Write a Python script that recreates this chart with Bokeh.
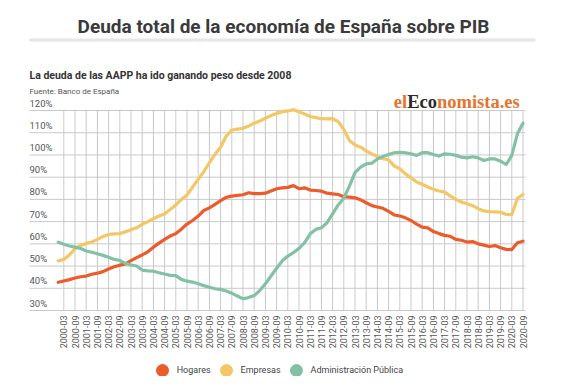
import math
import numpy as np
from bokeh.plotting import figure
from bokeh.models import Range1d, Label, Legend, LegendItem, BoxAnnotation
from bokeh.core.properties import value
from bokeh.embed import file_html
from bokeh.resources import INLINE

# ---------------- data ----------------
periods = ["1999-12"] + [f"{y}-{m:02d}" for y in range(2000, 2021) for m in (3, 6, 9, 12)][:83]

hogares = [42.7, 43.3, 43.9, 44.6, 45.2, 45.5, 46.3, 46.8, 47.5, 48.7,
           49.7, 50.4, 51.0, 52.4, 53.8, 55.0, 56.4, 58.5, 60.3, 62.0,
           63.5, 64.6, 66.6, 68.9, 70.5, 72.5, 75.0, 76.2, 77.8, 79.4,
           80.9, 81.5, 81.8, 82.1, 83.0, 82.6, 82.6, 82.8, 83.8, 84.8,
           85.2, 85.4, 86.2, 84.8, 85.2, 84.2, 84.0, 83.7, 82.8, 82.5,
           82.2, 81.2, 81.0, 80.7, 79.8, 78.5, 77.2, 76.6, 76.0, 74.6,
           73.0, 72.5, 71.7, 70.5, 68.9, 67.5, 67.2, 65.5, 64.6, 63.8,
           63.4, 62.0, 61.6, 60.8, 61.0, 60.0, 59.4, 58.8, 59.2, 58.2,
           57.5, 57.4, 60.5, 61.2]

empresas = [52.3, 53.0, 55.0, 57.8, 59.3, 60.2, 60.8, 62.0, 63.3, 64.2,
            64.5, 64.6, 65.4, 66.3, 67.2, 68.8, 70.0, 71.3, 72.5, 73.4,
            75.5, 77.5, 80.0, 82.0, 85.5, 89.0, 92.5, 96.5, 100.3, 103.5,
            108.5, 111.2, 111.6, 112.0, 113.0, 114.3, 115.3, 116.5, 117.7, 118.7,
            119.5, 119.8, 120.3, 119.5, 118.4, 117.3, 116.8, 116.3, 116.2, 116.3,
            115.0, 111.5, 106.5, 104.5, 103.5, 101.8, 100.5, 99.3, 98.3, 97.8,
            95.0, 93.8, 91.5, 89.7, 87.8, 86.8, 85.6, 84.5, 83.8, 83.3,
            81.6, 80.0, 78.8, 78.0, 77.2, 75.8, 74.8, 74.5, 74.4, 74.2,
            73.2, 73.2, 80.5, 82.2]

administracion = [60.7, 59.8, 59.0, 58.5, 57.9, 56.8, 56.2, 55.5, 54.8, 54.0,
                  53.0, 52.5, 51.2, 50.5, 50.0, 48.2, 47.8, 47.7, 47.0, 46.4,
                  45.8, 45.7, 44.0, 43.2, 42.8, 42.0, 41.2, 40.5, 39.8, 39.5,
                  38.8, 37.8, 36.5, 35.3, 35.8, 36.7, 39.0, 42.0, 45.5, 49.0,
                  52.3, 54.5, 56.0, 58.0, 60.5, 64.5, 66.5, 67.2, 69.5, 73.5,
                  77.5, 80.5, 86.0, 92.0, 94.5, 96.0, 96.3, 98.2, 99.3, 100.2,
                  101.0, 101.2, 101.0, 100.5, 99.8, 101.0, 101.0, 100.2, 99.5, 100.5,
                  100.3, 99.8, 99.0, 98.7, 99.2, 98.7, 97.5, 98.2, 98.2, 97.2,
                  95.7, 99.8, 109.5, 114.3]

series_names = ["Hogares", "Empresas", "Administración Pública"]
series_colors = ["#ee5b2b", "#f3c765", "#82c1a3"]

y_ticks = [30, 40, 50, 60, 70, 80, 90, 100, 110, 120]
y_tick_labels = ["30%", "40%", "50%", "60%", "70%", "80%", "90%", "100%", "110%", "120%"]

x_tick_labels = ["2000-03", "2000-09", "2001-03", "2001-09", "2002-03", "2002-09",
                 "2003-03", "2003-09", "2004-03", "2004-09", "2005-03", "2005-09",
                 "2006-03", "2006-09", "2007-03", "2007-09", "2008-03", "2008-09",
                 "2009-03", "2009-09", "2010-03", "2010-09", "2011-03", "2011-09",
                 "2012-03", "2012-09", "2013-03", "2013-09", "2014-03", "2014-09",
                 "2015-03", "2015-09", "2016-03", "2016-09", "2017-03", "2017-09",
                 "2018-03", "2018-09", "2019-03", "2019-09", "2020-03", "2020-09"]

title_text = "Deuda total de la economía de España sobre PIB"
subtitle_text = "La deuda de las AAPP ha ido ganando peso desde 2008"
source_text = "Fuente: Banco de España"


def qidx(s):
    y, m = s.split("-")
    return (int(y) - 2000) * 4 + int(m) // 3 - 1


xq = [qidx(s) for s in periods]
x_ticks = [qidx(s) for s in x_tick_labels]

FONT = "Roboto"
GRID_LEFT, GRID_RIGHT = -6.125, 82.446

W, H = 551, 376
# the frame fills the whole canvas
p = figure(width=W, height=H, output_backend="svg", toolbar_location=None,
           x_range=Range1d(-11.304, 87.089), y_range=Range1d(0.3, 169.5),
           x_axis_location=None, y_axis_location=None,
           min_border_left=0, min_border_right=0, min_border_top=0, min_border_bottom=0)
p.outline_line_color = None
p.background_fill_color = "white"
p.border_fill_color = "white"
p.grid.visible = False

grid_color = "#c9c9c9"
# horizontal gridlines
p.segment(x0=[GRID_LEFT] * len(y_ticks), y0=y_ticks, x1=[GRID_RIGHT] * len(y_ticks), y1=y_ticks,
          line_color=grid_color, line_width=1)
# vertical gridlines
p.segment(x0=x_ticks, y0=[y_ticks[0]] * len(x_ticks), x1=x_ticks,
          y1=[y_ticks[-1]] * len(x_ticks), line_color=grid_color, line_width=1)

# y tick labels, above the gridlines at left
p.text(x=[GRID_LEFT] * len(y_ticks), y=y_ticks, text=y_tick_labels,
       text_font=value(FONT), text_font_size="9.5px", text_color="#555555",
       text_align="left", text_baseline="bottom", y_offset=-2)

# x tick labels (vertical, reading upwards)
p.text(x=x_ticks, y=[y_ticks[0]] * len(x_ticks), text=x_tick_labels, angle=math.pi / 2,
       text_font=value(FONT), text_font_size="9px", text_color="#555555",
       text_align="right", text_baseline="middle", y_offset=5)

for vals, col in zip([hogares, empresas, administracion], series_colors):
    p.line(xq, vals, line_color=col, line_width=3.2, line_join="round", line_cap="round")

# legend (circle markers)
items = []
for name, col in zip(series_names, series_colors):
    r = p.scatter(x=np.array([np.nan]), y=np.array([np.nan]), marker="circle", size=12,
                  fill_color=col, line_color=col)
    items.append(LegendItem(label=name, renderers=[r]))
legend = Legend(items=items, orientation="horizontal", location=(146.7, -9),
                glyph_width=30, glyph_height=30, label_standoff=-2, spacing=-2,
                padding=0, margin=0, border_line_color=None, background_fill_alpha=0,
                label_text_font=FONT, label_text_font_size="9px", label_text_color="#444444")
p.add_layout(legend, "center")

# titles (screen units: x = page_x, y = H - page_y)
p.add_layout(Label(x=283, y=H - 26, x_units="screen", y_units="screen", text=title_text,
                   text_align="center", text_baseline="alphabetic", text_font=FONT,
                   text_font_style="bold", text_font_size="19px", text_color="#3a3a3a"))
p.add_layout(BoxAnnotation(left=29, right=535, top=H - 38, bottom=H - 41,
                           left_units="screen", right_units="screen",
                           top_units="screen", bottom_units="screen",
                           fill_color="#e6e6e6", fill_alpha=1, line_color=None))
p.add_layout(Label(x=29, y=H - 75, x_units="screen", y_units="screen", text=subtitle_text,
                   text_align="left", text_baseline="alphabetic", text_font=FONT,
                   text_font_style="bold", text_font_size="10.5px", text_color="#333333"))
p.add_layout(Label(x=29, y=H - 91, x_units="screen", y_units="screen", text=source_text,
                   text_align="left", text_baseline="alphabetic", text_font=FONT,
                   text_font_size="8px", text_color="#555555"))

# logo
for txt, xx, col in [("el", 393.3, "#e4742e"), ("Eco", 406.7, "#2b2b2b"), ("nomista.es", 436.5, "#e4742e")]:
    p.add_layout(Label(x=xx, y=H - 101.7, x_units="screen", y_units="screen", text=txt,
                       text_align="left", text_baseline="alphabetic",
                       text_font="Liberation Serif", text_font_style="bold",
                       text_font_size="18.5px", text_color=col))

open("out.html", "w").write(file_html(p, INLINE))
